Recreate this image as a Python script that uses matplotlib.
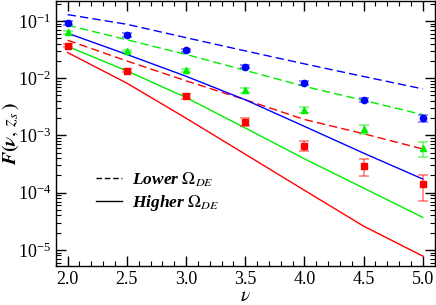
import numpy as np
import matplotlib
matplotlib.use("Agg")
import matplotlib.pyplot as plt
from matplotlib.lines import Line2D
import matplotlib.ticker as mticker

plt.rcParams.update({
    "font.family": "serif",
    "font.serif": ["Liberation Serif", "DejaVu Serif"],
    "mathtext.fontset": "stix",
    "font.size": 13,
    "xtick.direction": "in",
    "ytick.direction": "in",
    "xtick.top": True,
    "ytick.right": True,
})

nu = [2.0, 2.5, 3.0, 3.5, 4.0, 4.5, 5.0]

# model curves
blue_lower = [0.129, 0.0875, 0.051, 0.030, 0.0178, 0.0107, 0.0065]
green_lower = [0.084, 0.047, 0.026, 0.0137, 0.0072, 0.0041, 0.0023]
red_lower = [0.046, 0.020, 0.0090, 0.0042, 0.0019, 0.00107, 0.00058]
blue_higher = [0.061, 0.026, 0.0108, 0.0042, 0.00144, 0.00049, 0.000173]
green_higher = [0.036, 0.0134, 0.0046, 0.00135, 0.00039, 0.00012, 0.000037]
red_higher = [0.028, 0.0082, 0.0020, 0.00047, 0.00011, 0.000026, 0.0000078]

# simulation points
blue_pts = [0.092, 0.057, 0.031, 0.016, 0.0082, 0.0042, 0.0020]
blue_err = [0.006, 0.004, 0.002, 0.0011, 0.0006, 0.0004, 0.00025]
green_pts = [0.063, 0.030, 0.0137, 0.0062, 0.0028, 0.0013, 0.0006]
green_err = [0.003, 0.0015, 0.0009, 0.0006, 0.00035, 0.00025, 0.00018]
red_pts = [0.037, 0.0136, 0.0048, 0.00174, 0.00066, 0.00029, 0.00014]
red_err = [0.002, 0.0008, 0.0004, 0.00028, 0.00013, 0.000095, 0.000067]

BLUE = "#0000ff"
GREEN = "#00ee00"
RED = "#ff0000"

fig = plt.figure(figsize=(4.36, 3.05), dpi=100)
ax = fig.add_axes([0.128, 0.128, 0.869, 0.869])

dash = (0, (6, 3))
for y, c in [(blue_lower, BLUE), (green_lower, GREEN), (red_lower, RED)]:
    ax.plot(nu, y, color=c, lw=1, linestyle=dash)
for y, c in [(blue_higher, BLUE), (green_higher, GREEN), (red_higher, RED)]:
    ax.plot(nu, y, color=c, lw=1)

for y, e, c, m, ms in [(blue_pts, blue_err, BLUE, "o", 4.5),
                       (green_pts, green_err, GREEN, "^", 5),
                       (red_pts, red_err, RED, "s", 4)]:
    ax.errorbar(nu, y, yerr=e, fmt="none", ecolor=c, alpha=0.5,
                elinewidth=1.2, capsize=3.5, capthick=1.2)
    ax.plot(nu, y, linestyle="none", marker=m, color=c, ms=ms)

ax.set_yscale("log")
ax.set_xlim(1.9, 5.1)
ax.set_ylim(10 ** -5.28, 10 ** -0.65)
ax.xaxis.set_major_locator(mticker.MultipleLocator(0.5))
ax.xaxis.set_minor_locator(mticker.MultipleLocator(0.1))
ax.xaxis.set_major_formatter(mticker.FormatStrFormatter("%.1f"))
ax.yaxis.set_major_locator(mticker.LogLocator(base=10, numticks=10))
ax.yaxis.set_minor_locator(mticker.LogLocator(base=10, subs=np.arange(2, 10), numticks=20))
ax.yaxis.set_minor_formatter(mticker.NullFormatter())
ax.tick_params(which="major", length=7, width=1, labelsize=13)
ax.tick_params(which="minor", length=3.5, width=0.8)
for s in ax.spines.values():
    s.set_linewidth(1)

ax.set_xlabel(r"$\nu$", fontsize=14)
ax.xaxis.set_label_coords(0.5, -0.085)
ax.set_ylabel(r"$\boldsymbol{F(\nu,\, z_s\,)}$", fontsize=14)
ax.yaxis.set_label_coords(-0.093, 0.5)

handles = [Line2D([], [], color="black", lw=1, linestyle=(0, (4, 2))),
           Line2D([], [], color="black", lw=1)]
labels = [r"Lower $\boldsymbol{\Omega_{DE}}$",
          r"Higher $\boldsymbol{\Omega_{DE}}$"]
ax.legend(handles, labels, loc="lower left", bbox_to_anchor=(0.064, 0.14),
          frameon=False, handlelength=1.5, handletextpad=0.6,
          labelspacing=0.25, prop={"size": 12.5, "weight": "bold", "style": "italic"})

fig.savefig("out.png", dpi=100)
